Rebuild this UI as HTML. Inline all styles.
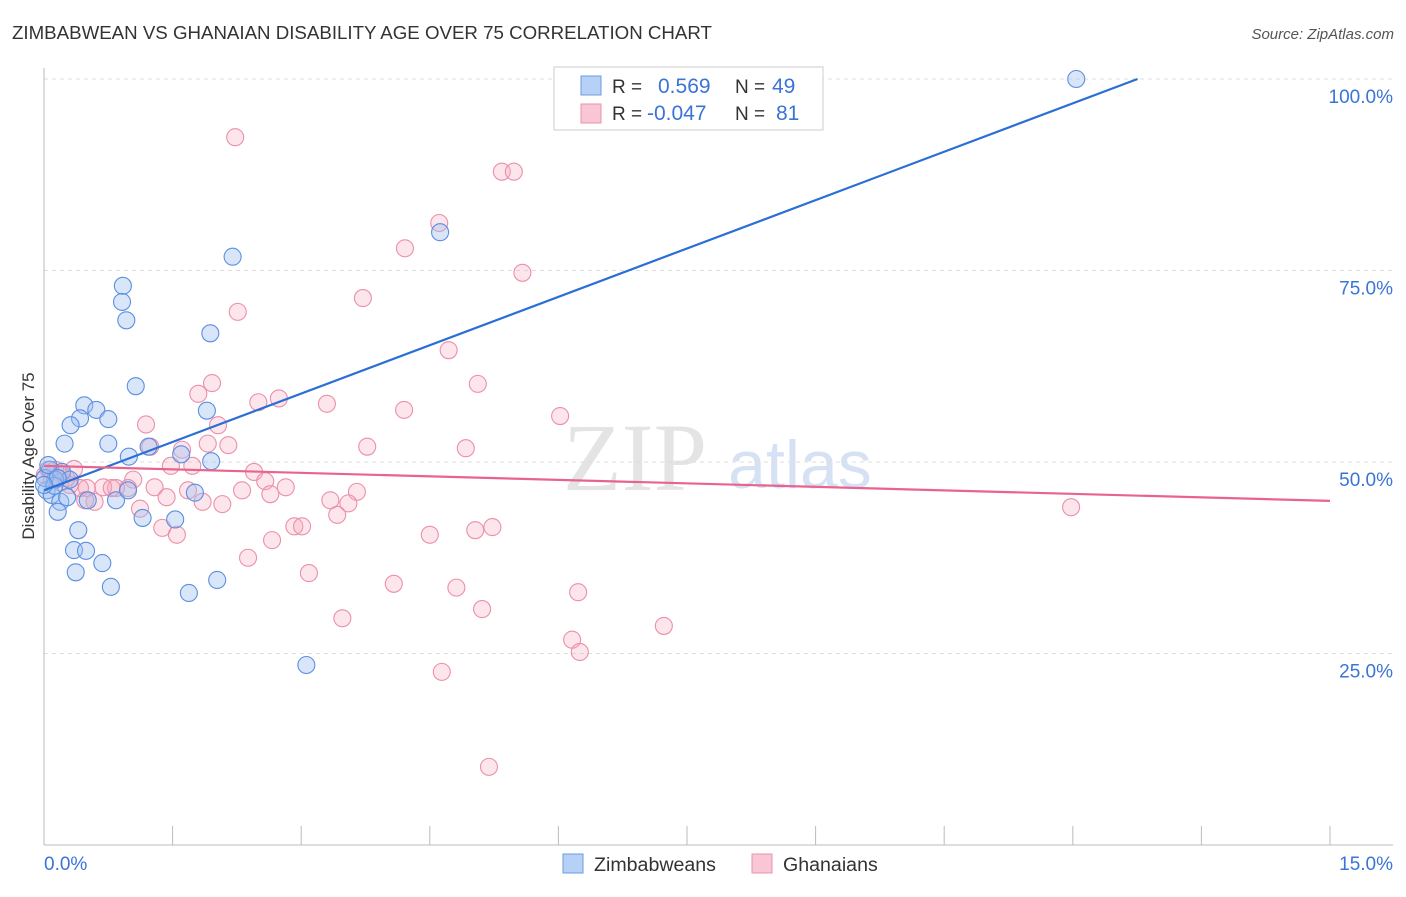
<!DOCTYPE html>
<html><head><meta charset="utf-8"><style>
body{margin:0;background:#fff;}
svg{font-family:"Liberation Sans",sans-serif;}
</style></head><body>
<svg id="chart" width="1406" height="892" xmlns="http://www.w3.org/2000/svg">
<text x="12" y="39" font-size="18.7" fill="#333">ZIMBABWEAN VS GHANAIAN DISABILITY AGE OVER 75 CORRELATION CHART</text>
<text x="1394" y="39" font-size="15" fill="#555" font-style="italic" text-anchor="end">Source: ZipAtlas.com</text>
<text x="34" y="456" font-size="17" fill="#333" text-anchor="middle" transform="rotate(-90 34 456)">Disability Age Over 75</text>
<g>
<text x="635" y="490" font-size="96" fill="#e4e4e4" font-family="Liberation Serif,serif" text-anchor="middle">ZIP</text>
<text x="800" y="488" font-size="68" fill="#d6e2f4" text-anchor="middle">atlas</text>
</g>
<g id="grid"></g><g id="axes"></g><g id="pinkpts"></g><g id="bluepts"></g><g id="lines"></g>
<g>
<rect x="554" y="67" width="269" height="63" fill="#fff" stroke="#ccc"/>
<rect x="581" y="76" width="20" height="19" fill="#b7d0f5" stroke="#6a9be0"/>
<rect x="581" y="104" width="20" height="19" fill="#f8c6d4" stroke="#ea93ad"/>
<text x="612" y="93" font-size="19" fill="#333">R = </text><text x="658" y="93" font-size="21" fill="#3a74d6">0.569</text>
<text x="735" y="93" font-size="19" fill="#333">N = </text><text x="772" y="93" font-size="21" fill="#3a74d6">49</text>
<text x="612" y="120" font-size="19" fill="#333">R = </text><text x="647" y="120" font-size="21" fill="#3a74d6">-0.047</text>
<text x="735" y="120" font-size="19" fill="#333">N = </text><text x="776" y="120" font-size="21" fill="#3a74d6">81</text>
</g>
<g>
<rect x="563" y="854" width="20" height="19" fill="#b7d0f5" stroke="#6a9be0"/>
<text x="594" y="871" font-size="19.6" fill="#333">Zimbabweans</text>
<rect x="752" y="854" width="20" height="19" fill="#f8c6d4" stroke="#ea93ad"/>
<text x="783" y="871" font-size="19.6" fill="#333">Ghanaians</text>
</g>
</svg>
<script>
const blueX=[12.04,4.62,2.20,0.92,0.91,0.96,1.94,1.07,0.47,0.61,0.42,0.75,1.90,0.31,0.24,0.75,1.22,0.99,1.60,1.95,0.07,0.21,0.30,0.13,0.03,0.09,0.19,0.27,0.51,0.84,0.98,1.76,0.16,1.15,1.53,0.40,0.35,0.49,0.68,0.37,0.78,2.02,1.69,3.06,0.01,0.12,0.05,0.16,0.0];
const blueY=[100,80.0,76.8,73.0,70.9,68.5,66.8,59.9,57.4,56.8,55.7,55.6,56.7,54.8,52.4,52.4,52.0,50.7,51.0,50.1,49.0,48.7,47.7,47.7,46.3,45.7,44.8,45.4,45.0,45.0,46.3,46.0,43.5,42.7,42.5,41.1,38.5,38.4,36.8,35.6,33.7,34.6,32.9,23.5,47.9,46.9,49.6,47.9,47.0];
const pinkX=[2.23,5.34,5.48,4.61,4.21,5.58,3.72,2.26,4.72,5.06,1.96,1.80,2.74,2.50,3.30,4.20,6.02,1.19,2.03,1.24,1.61,1.91,2.15,3.77,4.92,1.48,1.73,2.45,0.35,0.13,0.21,1.04,2.58,2.82,2.31,1.29,0.98,0.84,0.69,0.50,0.79,0.42,1.43,1.68,2.64,3.65,3.34,3.55,1.85,2.08,1.12,0.59,0.48,3.42,1.38,1.55,2.92,3.01,5.23,5.03,4.50,2.66,2.38,3.09,4.08,4.81,6.23,5.11,3.48,6.16,7.23,6.25,4.64,5.19,11.98,0.05,0.09,0.19,0.30,0.01,0.26];
const pinkY=[92.4,87.9,87.9,81.2,77.9,74.7,71.4,69.6,64.6,60.2,60.3,58.9,58.3,57.8,57.6,56.8,56.0,54.9,54.8,52.0,51.6,52.4,52.2,52.0,51.8,49.5,49.5,48.7,49.1,49.0,48.3,47.7,47.5,46.7,46.3,46.7,46.6,46.6,46.7,46.6,46.6,46.6,45.4,46.3,45.8,46.1,45.0,44.6,44.8,44.5,43.9,44.8,45.0,43.1,41.4,40.5,41.6,41.6,41.5,41.1,40.5,39.8,37.5,35.5,34.1,33.6,33.0,30.8,29.6,26.8,28.6,25.2,22.6,10.2,44.1,49.0,47.7,47.3,47.0,48.3,47.9];
const blueTrend=[46.3,4.21];
const pinkTrend=[49.5,-0.305];
const yTicks=[25,50,75,100];
const xTickCount=11;
const NS='http://www.w3.org/2000/svg';
const X=v=>44+v*(1286/15);
const Y=v=>845-v*7.66;
function mk(t,p,a){const e=document.createElementNS(NS,t);for(const k in a)e.setAttribute(k,a[k]);p.appendChild(e);return e;}
const grid=document.getElementById('grid');
yTicks.forEach(v=>{
 const l=mk('line',grid,{x1:44,x2:1393,y1:Y(v),y2:Y(v),stroke:'#ddd','stroke-dasharray':'4,4'});
 
 
 const t=mk('text',grid,{x:1393,y:Y(v)+24,'font-size':19,fill:'#3a74d6','text-anchor':'end'});
 t.textContent=v.toFixed(1)+'%';
 
 
});
const ax=document.getElementById('axes');
mk('line',ax,{x1:44,x2:44,y1:68,y2:845,stroke:'#bbb'});
mk('line',ax,{x1:44,x2:1393,y1:845,y2:845,stroke:'#bbb'});
for(let i=0;i<xTickCount;i++){const x=X(i*1.5);mk('line',ax,{x1:x,x2:x,y1:826,y2:845,stroke:'#bbb'});}
let t=mk('text',ax,{x:44,y:870,'font-size':19,fill:'#3a74d6'});t.textContent='0.0%';


t=mk('text',ax,{x:1393,y:870,'font-size':19,fill:'#3a74d6','text-anchor':'end'});t.textContent='15.0%';


const pg=document.getElementById('pinkpts');
pinkX.forEach((x,i)=>{const c=mk('circle',pg,{cx:X(x),cy:Y(pinkY[i]),r:8.5,fill:'rgba(244,168,190,0.3)',stroke:'#ec8fab','stroke-width':1.1});
 
 });
const bg=document.getElementById('bluepts');
blueX.forEach((x,i)=>{const c=mk('circle',bg,{cx:X(x),cy:Y(blueY[i]),r:8.5,fill:'rgba(160,192,242,0.4)',stroke:'#5b8fe0','stroke-width':1.1});
 
 });
const lg=document.getElementById('lines');
const bEnd=(100-blueTrend[0])/blueTrend[1];
let l=mk('line',lg,{x1:X(0),y1:Y(blueTrend[0]),x2:X(bEnd),y2:Y(100),stroke:'#2a6fd6','stroke-width':2.2});


l=mk('line',lg,{x1:X(0),y1:Y(pinkTrend[0]),x2:X(15),y2:Y(pinkTrend[0]+15*pinkTrend[1]),stroke:'#e8648e','stroke-width':2.2});


</script>
</body></html>
